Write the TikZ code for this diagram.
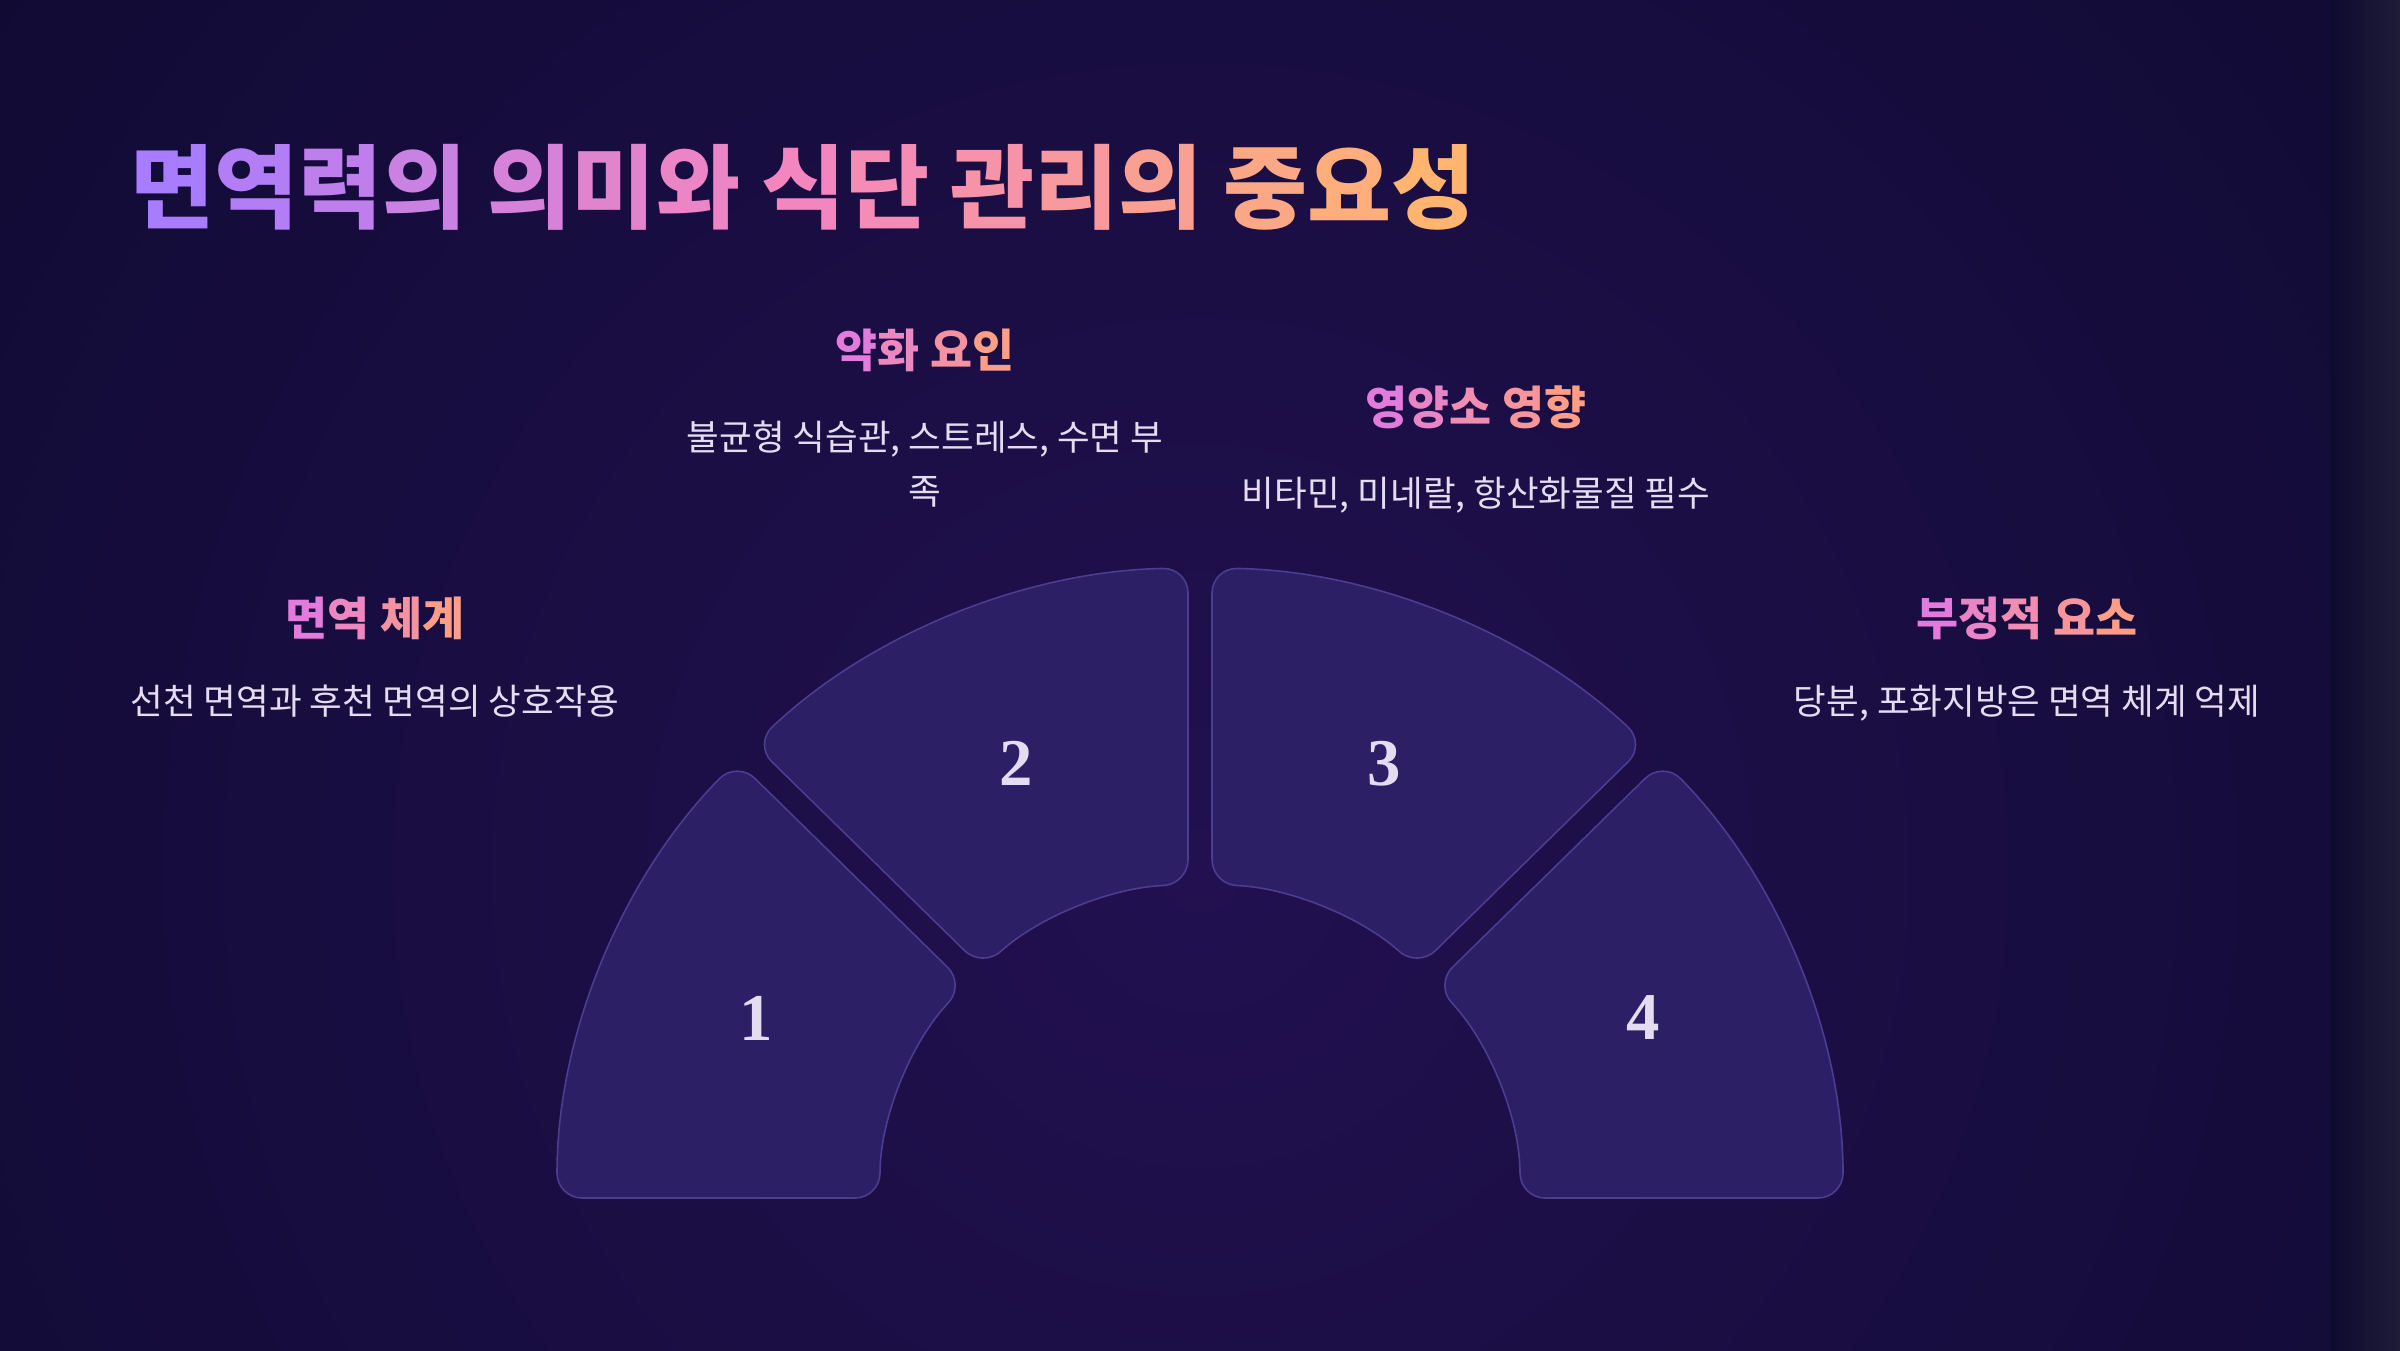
\documentclass[tikz,border=0pt]{standalone}
\usepackage{fontspec}
\setmainfont{Noto Sans CJK KR}
\newfontfamily\numfont{Liberation Serif}

\definecolor{bgedge}{HTML}{0E0A30}
\definecolor{bgmid}{HTML}{221050}
\definecolor{bgside}{HTML}{1E1C38}
\definecolor{segfill}{HTML}{2D1F66}
\definecolor{segline}{HTML}{4B3D8F}
\definecolor{desc}{HTML}{E4DCF0}
\definecolor{tviolet}{HTML}{A77CFF}
\definecolor{tpink}{HTML}{F386BE}
\definecolor{torange}{HTML}{FFB570}
\definecolor{hpurple}{HTML}{E27BDB}
\definecolor{hsalmon}{HTML}{FF9E86}

\tikzset{
  segment/.style={fill=segfill, draw=segline, line width=0.45pt, rounded corners=0.25cm},
  heading/.style={font=\fontsize{13}{16}\selectfont\bfseries, inner sep=0pt},
  desctext/.style={text=desc, font=\fontsize{10.1}{15.3}\selectfont, align=center, inner sep=0pt},
  number/.style={text=desc, font=\numfont\fontsize{19}{22}\selectfont\bfseries, inner sep=0pt}
}

\begin{document}
\begin{tikzpicture}
    \useasboundingbox (0,0) rectangle (24,13.5);

    % Background
    \fill[bgedge] (0,0) rectangle (24,13.5);
    \begin{scope}
        \clip (0,0) rectangle (24,13.5);
        \shade[inner color=bgmid, outer color=bgedge] (12,4.8) circle (17);
    \end{scope}
    \shade[left color=bgedge, right color=bgside] (23.3,0) rectangle (24,13.5);

    % Title
    \node[anchor=west, inner sep=0pt, font=\fontsize{26}{30}\selectfont\bfseries] (title) at (1.3,11.63)
        {\textcolor{tviolet}{면}\textcolor{tpink!15!tviolet}{역}\textcolor{tpink!30!tviolet}{력}\textcolor{tpink!45!tviolet}{의}
         \textcolor{tpink!60!tviolet}{의}\textcolor{tpink!75!tviolet}{미}\textcolor{tpink!90!tviolet}{와}
         \textcolor{tpink}{식}\textcolor{torange!12!tpink}{단}
         \textcolor{torange!28!tpink}{관}\textcolor{torange!42!tpink}{리}\textcolor{torange!56!tpink}{의}
         \textcolor{torange!72!tpink}{중}\textcolor{torange!86!tpink}{요}\textcolor{torange}{성}};

    % Segments
    \begin{scope}[shift={(12,1.52)}, yscale=0.98]
        \draw[segment] (180:6.43) arc[start angle=180, end angle=136.07, radius=6.43]
            -- (137.15:3.2) arc[start angle=137.15, end angle=180, radius=3.2] -- cycle;
        \draw[segment] (133.93:6.43) arc[start angle=133.93, end angle=91.07, radius=6.43]
            -- (92.15:3.2) arc[start angle=92.15, end angle=132.85, radius=3.2] -- cycle;
        \draw[segment] (88.93:6.43) arc[start angle=88.93, end angle=46.07, radius=6.43]
            -- (47.15:3.2) arc[start angle=47.15, end angle=87.85, radius=3.2] -- cycle;
        \draw[segment] (43.93:6.43) arc[start angle=43.93, end angle=0, radius=6.43]
            -- (0:3.2) arc[start angle=0, end angle=42.85, radius=3.2] -- cycle;

        % Numbers
        \node[number] (n1) at (157.5:4.8) {1};
        \node[number] (n2) at (112.5:4.8) {2};
        \node[number] (n3) at (67.5:4.8) {3};
        \node[number] (n4) at (22.5:4.8) {4};
    \end{scope}

    % Labels
    \node[heading] (sys) at (3.75,7.32)
        {\textcolor{hpurple}{면}\textcolor{hsalmon!33!hpurple}{역} \textcolor{hsalmon!67!hpurple}{체}\textcolor{hsalmon}{계}};
    \node[desctext] (sysdesc) at (3.75,6.49) {선천 면역과 후천 면역의 상호작용};

    \node[heading] (weak) at (9.25,10.0)
        {\textcolor{hpurple}{약}\textcolor{hsalmon!33!hpurple}{화} \textcolor{hsalmon!67!hpurple}{요}\textcolor{hsalmon}{인}};
    \node[desctext] (weakdesc) at (9.25,8.86) {불균형 식습관, 스트레스, 수면 부\\족};

    \node[heading] (nutr) at (14.76,9.43)
        {\textcolor{hpurple}{영}\textcolor{hsalmon!25!hpurple}{양}\textcolor{hsalmon!50!hpurple}{소} \textcolor{hsalmon!75!hpurple}{영}\textcolor{hsalmon}{향}};
    \node[desctext] (nutrdesc) at (14.76,8.55) {비타민, 미네랄, 항산화물질 필수};

    \node[heading] (neg) at (20.27,7.32)
        {\textcolor{hpurple}{부}\textcolor{hsalmon!25!hpurple}{정}\textcolor{hsalmon!50!hpurple}{적} \textcolor{hsalmon!75!hpurple}{요}\textcolor{hsalmon}{소}};
    \node[desctext] (negdesc) at (20.27,6.47) {당분, 포화지방은 면역 체계 억제};
\end{tikzpicture}
\end{document}
